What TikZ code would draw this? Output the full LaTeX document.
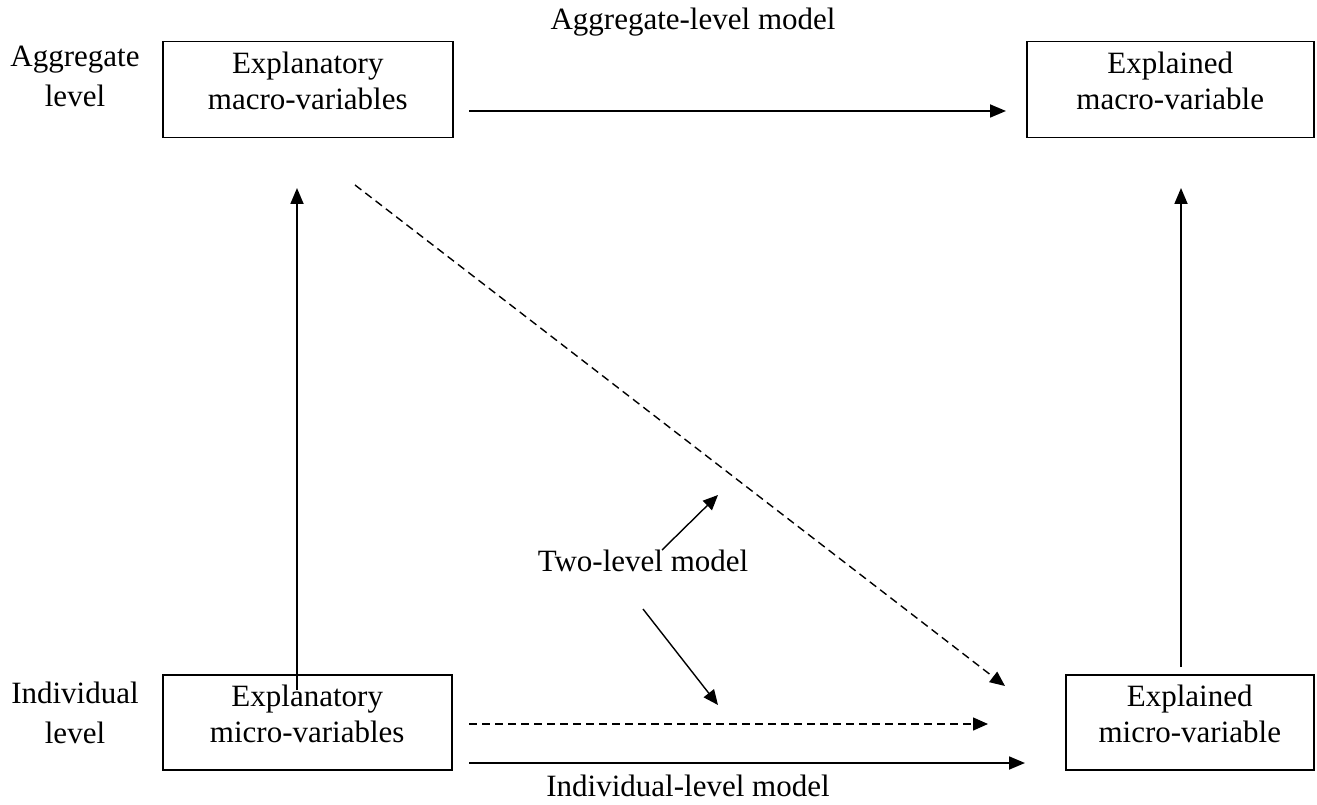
\documentclass[tikz,border=0pt]{standalone}
\usepackage{fontspec}
\setmainfont{Liberation Serif}
\usetikzlibrary{arrows.meta}
\newcommand\mybox[4]{\parbox[t][#2][t]{#1}{\centering\fontsize{31}{36}\selectfont\rule{0pt}{32pt}#3\\#4}}
\newcommand\mylabel[2]{\parbox[t]{150pt}{\centering\fontsize{31}{40}\selectfont\rule{0pt}{31pt}#1\\#2}}
\begin{document}
\begin{tikzpicture}[x=1pt,y=-1pt,
  box/.style={draw,line width=1.5pt,inner sep=0pt,anchor=north west},
  lbl/.style={inner sep=0pt,anchor=north},
  txt/.style={inner sep=0pt,anchor=base,font=\fontsize{31}{36}\selectfont},
  arr/.style={line width=1.8pt,-{Triangle[length=16pt,width=13pt]}},
  thinarr/.style={line width=1.4pt,-{Triangle[length=15pt,width=13pt]}},
  darr/.style={line width=1.4pt,dash pattern=on 8pt off 5pt,-{Triangle[length=15pt,width=13pt]}}]
\useasboundingbox (0,0) rectangle (1317,805);
% boxes
\node[box] (macroX) at (162,41) {\mybox{290pt}{96pt}{Explanatory}{macro-variables}};
\node[box] (macroY) at (1026,41) {\mybox{287pt}{96pt}{Explained}{macro-variable}};
\node[box] (microX) at (162,674) {\mybox{289pt}{95pt}{Explanatory}{micro-variables}};
\node[box] (microY) at (1065,674) {\mybox{248pt}{95pt}{Explained}{micro-variable}};
% labels
\node[lbl] (agglvl) at (75,35) {\mylabel{Aggregate}{level}};
\node[lbl] (indlvl) at (75,672) {\mylabel{Individual}{level}};
\node[txt] (aggmodel) at (693,30) {Aggregate-level model};
\node[txt] (indmodel) at (688,796) {Individual-level model};
\node[txt] (twomodel) at (643,571) {Two-level model};
% connector end points
\coordinate (topA) at (469,111);
\coordinate (topB) at (1006,111);
\coordinate (leftA) at (297,690);
\coordinate (leftB) at (297,188);
\coordinate (rightA) at (1181,667);
\coordinate (rightB) at (1181,188);
\coordinate (diagA) at (355,185);
\coordinate (diagB) at (1005,686);
\coordinate (dhA) at (469,724);
\coordinate (dhB) at (988,724);
\coordinate (botA) at (469,763);
\coordinate (botB) at (1025,763);
\coordinate (t1A) at (662,550);
\coordinate (t1B) at (718,495);
\coordinate (t2A) at (643,609);
\coordinate (t2B) at (718,705);
% connectors
\draw[arr] (topA) -- (topB);
\draw[arr] (leftA) -- (leftB);
\draw[arr] (rightA) -- (rightB);
\draw[darr] (diagA) -- (diagB);
\draw[darr] (dhA) -- (dhB);
\draw[arr] (botA) -- (botB);
\draw[thinarr] (t1A) -- (t1B);
\draw[thinarr] (t2A) -- (t2B);
\end{tikzpicture}
\end{document}
